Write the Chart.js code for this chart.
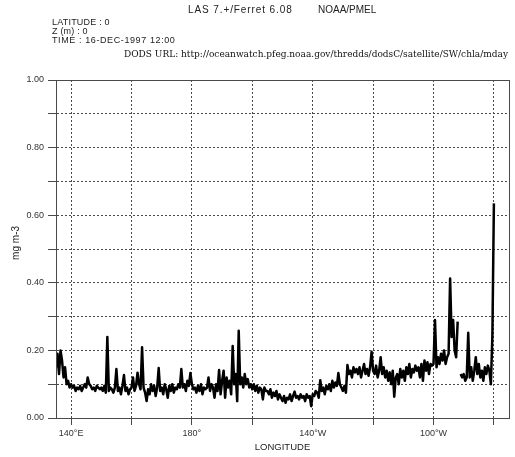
<!DOCTYPE html>
<html>
<head>
<meta charset="utf-8">
<script src="https://cdn.jsdelivr.net/npm/chart.js@4.4.0/dist/chart.umd.min.js"></script>
<style>
  html, body { margin: 0; padding: 0; background: #fff; }
  #wrap { position: relative; width: 515px; height: 457px; overflow: hidden; }
  #c { position: absolute; left: 0; top: 0; }
  .t { position: absolute; white-space: nowrap; font-family: "Liberation Sans", Arial, sans-serif;
       font-size: 10px; line-height: 10px; color: #222; }
  .s { font-size: 9px; line-height: 9px; }
  .url { font-family: "DejaVu Serif", "Liberation Serif", serif; font-size: 9px; color: #111; }
</style>
</head>
<body>
<div id="wrap">
  <canvas id="c" width="515" height="457"></canvas>
  <div class="t" style="left:188px;top:5px;letter-spacing:0.9px">LAS 7.+/Ferret 6.08</div>
  <div class="t" style="left:318px;top:5px">NOAA/PMEL</div>
  <div class="t s" style="left:52px;top:18px;letter-spacing:0.2px">LATITUDE : 0</div>
  <div class="t s" style="left:52px;top:27px;letter-spacing:0.2px">Z (m) : 0</div>
  <div class="t s" style="left:52px;top:36px;letter-spacing:0.6px">TIME : 16-DEC-1997 12:00</div>
  <div class="t url" style="left:124px;top:49px">DODS URL: http://oceanwatch.pfeg.noaa.gov/thredds/dodsC/satellite/SW/chla/mday</div>
</div>
<script>
// Chlorophyll-a along the equator, sampled every half degree of longitude (0-360 east)
const lonStart = 135;
const lonStep = 0.5;
const chla = [
  0.15, 0.19, 0.13, 0.20, 0.17, 0.12, 0.15, 0.10, 0.11, 0.09,      // 135
  0.10, 0.09, 0.095, 0.08, 0.09, 0.085, 0.095, 0.08, 0.09, 0.10,   // 140
  0.09, 0.12, 0.10, 0.095, 0.085, 0.09, 0.08, 0.095, 0.09, 0.085,  // 145
  0.09, 0.08, 0.095, 0.075, 0.24, 0.08, 0.09, 0.085, 0.075, 0.09,  // 150
  0.145, 0.08, 0.09, 0.07, 0.095, 0.127, 0.08, 0.09, 0.07, 0.085,  // 155
  0.09, 0.12, 0.08, 0.095, 0.134, 0.10, 0.085, 0.209, 0.09, 0.075, // 160
  0.05, 0.085, 0.07, 0.10, 0.08, 0.095, 0.065, 0.09, 0.148, 0.08,  // 165
  0.09, 0.07, 0.10, 0.085, 0.06, 0.095, 0.08, 0.10, 0.075, 0.09,   // 170
  0.085, 0.10, 0.09, 0.145, 0.09, 0.10, 0.08, 0.11, 0.095, 0.133,  // 175
  0.10, 0.085, 0.09, 0.075, 0.095, 0.08, 0.10, 0.07, 0.09, 0.085,  // 180
  0.09, 0.12, 0.08, 0.10, 0.09, 0.06, 0.10, 0.08, 0.142, 0.07,     // 185
  0.11, 0.14, 0.06, 0.12, 0.09, 0.11, 0.07, 0.213, 0.10, 0.13,     // 190
  0.05, 0.258, 0.10, 0.12, 0.09, 0.13, 0.10, 0.115, 0.09, 0.10,    // 195
  0.085, 0.10, 0.08, 0.095, 0.075, 0.09, 0.085, 0.055, 0.09, 0.08, // 200
  0.08, 0.07, 0.085, 0.06, 0.075, 0.065, 0.08, 0.055, 0.07, 0.06,  // 205
  0.05, 0.065, 0.045, 0.06, 0.055, 0.07, 0.05, 0.065, 0.078, 0.06, // 210
  0.065, 0.055, 0.07, 0.06, 0.065, 0.05, 0.07, 0.06, 0.065, 0.035, // 215
  0.07, 0.065, 0.08, 0.075, 0.06, 0.112, 0.08, 0.09, 0.07, 0.095,  // 220
  0.085, 0.10, 0.08, 0.11, 0.09, 0.105, 0.095, 0.133, 0.10, 0.09,  // 225
  0.08, 0.095, 0.075, 0.157, 0.13, 0.14, 0.12, 0.15, 0.135, 0.145, // 230
  0.13, 0.15, 0.12, 0.14, 0.16, 0.13, 0.145, 0.125, 0.15, 0.196,   // 235
  0.14, 0.13, 0.155, 0.12, 0.14, 0.18, 0.13, 0.15, 0.12, 0.14,     // 240
  0.11, 0.135, 0.10, 0.14, 0.063, 0.12, 0.13, 0.10, 0.145, 0.12,   // 245
  0.14, 0.11, 0.15, 0.13, 0.16, 0.12, 0.145, 0.135, 0.155, 0.14,   // 250
  0.15, 0.12, 0.16, 0.11, 0.17, 0.14, 0.165, 0.13, 0.16, 0.155,    // 255
  0.16, 0.29, 0.15, 0.18, 0.16, 0.19, 0.17, 0.20, 0.16, 0.18,      // 260
  0.19, 0.413, 0.24, 0.29, 0.20, 0.18, 0.285, null, 0.13, 0.12,    // 265 (gap at Galapagos)
  0.13, 0.11, 0.12, 0.252, 0.12, 0.15, 0.11, 0.14, 0.18, 0.13,     // 270
  0.16, 0.12, 0.14, 0.11, 0.15, 0.13, 0.155, 0.14, 0.10, 0.245,    // 275
  0.635                                                            // 280
];

const lonMin = 135, lonMax = 285;
const xTickValues = [140, 160, 180, 200, 220, 240, 260, 280];
const xTickLabels = ['140\u00B0E', '', '180\u00B0', '', '140\u00B0W', '', '100\u00B0W', ''];
const yTickValues = [0, 0.1, 0.2, 0.3, 0.4, 0.5, 0.6, 0.7, 0.8, 0.9, 1.0];
const yTickLabels = ['0.00', '', '0.20', '', '0.40', '', '0.60', '', '0.80', '', '1.00'];

const points = chla.map((v, i) => ({ x: lonStart + i * lonStep, y: v }));

const lineColor = '#4a4a4a';
const labelFont = { family: '"Liberation Sans", Arial, sans-serif', size: 9 };

// Frame around the plot plus the two axis titles
const frameAndTitles = {
  id: 'frameAndTitles',
  afterDraw(chart) {
    const { ctx, chartArea: a } = chart;
    ctx.save();
    ctx.strokeStyle = lineColor;
    ctx.lineWidth = 1;
    ctx.setLineDash([]);
    ctx.strokeRect(Math.round(a.left) + 0.5, Math.round(a.top) + 0.5,
                   Math.round(a.right - a.left), Math.round(a.bottom - a.top));
    ctx.fillStyle = '#222';
    ctx.font = '9.5px "Liberation Sans", Arial, sans-serif';
    ctx.textAlign = 'center';
    ctx.textBaseline = 'middle';
    ctx.fillText('LONGITUDE', (a.left + a.right) / 2, 447);
    ctx.translate(16, 243);
    ctx.rotate(-Math.PI / 2);
    ctx.font = '10px "Liberation Sans", Arial, sans-serif';
    ctx.fillText('mg m-3', 0, 0);
    ctx.restore();
  }
};

new Chart(document.getElementById('c'), {
  type: 'line',
  data: {
    datasets: [{
      data: points,
      borderColor: '#000',
      borderWidth: 2.5,
      borderJoinStyle: 'round',
      borderCapStyle: 'butt',
      pointRadius: 0,
      tension: 0,
      spanGaps: false,
      fill: false
    }]
  },
  options: {
    responsive: false,
    animation: false,
    layout: { padding: { top: 80, left: 0, right: 6, bottom: 0 } },
    plugins: { legend: { display: false }, tooltip: { enabled: false }, title: { display: false } },
    scales: {
      x: {
        type: 'linear',
        min: lonMin,
        max: lonMax,
        afterBuildTicks: s => { s.ticks = xTickValues.map(v => ({ value: v })); },
        afterFit: s => { s.height = 39; s.paddingLeft = 0; s.paddingRight = 0; },
        ticks: {
          autoSkip: false,
          maxRotation: 0,
          padding: 3,
          color: '#333',
          font: labelFont,
          callback: (v, i) => xTickLabels[i]
        },
        grid: { color: lineColor, lineWidth: 1, tickLength: 7, tickColor: lineColor, tickBorderDash: [] },
        border: { color: lineColor, width: 1, dash: [2, 2] }
      },
      y: {
        type: 'linear',
        min: 0,
        max: 1,
        afterBuildTicks: s => { s.ticks = yTickValues.map(v => ({ value: v })); },
        afterFit: s => { s.width = 56; s.paddingTop = 0; s.paddingBottom = 0; },
        ticks: {
          autoSkip: false,
          padding: 4,
          color: '#333',
          font: labelFont,
          callback: (v, i) => yTickLabels[i]
        },
        grid: { color: lineColor, lineWidth: 1, tickLength: 8, tickColor: lineColor, tickBorderDash: [] },
        border: { color: lineColor, width: 1, dash: [2, 2] }
      }
    }
  },
  plugins: [frameAndTitles]
});
</script>
</body>
</html>
